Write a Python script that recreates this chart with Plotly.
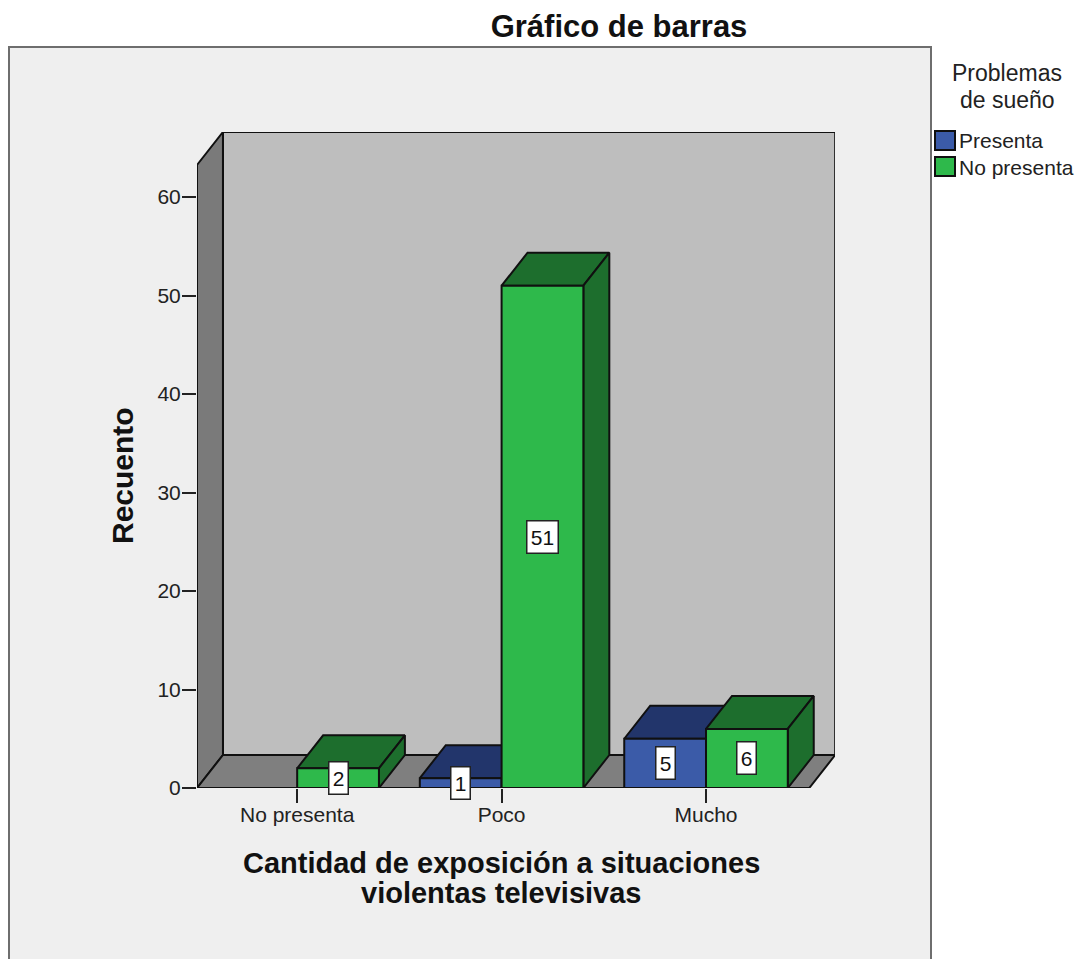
import plotly.graph_objects as go

# values
categories = ["No presenta", "Poco", "Mucho"]
presenta = [0, 1, 5]
no_presenta = [2, 51, 6]
y_ticks = [0, 10, 20, 30, 40, 50, 60]

W, H = 1084, 959
FONT = "Liberation Sans"

# pseudo 3d depth and box size, in axis units
DX, DY = 0.127, 3.35
BAR_W = 0.4
X_LEFT, X_RIGHT = -0.49, 2.505
WALL_TOP = 63.25

BLUE, BLUE_DARK = "#3b5ba8", "#22356b"
GREEN, GREEN_DARK = "#2eb94b", "#1d6e2d"
EDGE = "#101010"


def px(x):
    return x / W


def py(y):
    return 1 - y / H


def face(xs, ys, color):
    return go.Scatter(x=xs, y=ys, mode="lines", fill="toself", fillcolor=color,
                      line=dict(color=EDGE, width=2), cliponaxis=False,
                      showlegend=False, hoverinfo="skip")


def add_bar(fig, x0, value, color, dark):
    x1 = x0 + BAR_W
    # top, right side, front
    fig.add_trace(face([x0, x0 + DX, x1 + DX, x1, x0], [value, value + DY, value + DY, value, value], dark))
    fig.add_trace(face([x1, x1 + DX, x1 + DX, x1, x1], [0, DY, value + DY, value, 0], dark))
    fig.add_trace(face([x0, x1, x1, x0, x0], [0, 0, value, value, 0], color))


def note(x, y, text, size, color="#222222", xanchor="center", angle=0):
    return dict(x=px(x), y=py(y), xref="paper", yref="paper", showarrow=False, textangle=angle,
                xanchor=xanchor, yanchor="middle", text=text,
                font=dict(family=FONT, size=size, color=color))


fig = go.Figure()

# walls and floor
fig.add_trace(face([X_LEFT + DX, X_RIGHT + DX, X_RIGHT + DX, X_LEFT + DX, X_LEFT + DX],
                   [DY, DY, WALL_TOP + DY, WALL_TOP + DY, DY], "#bebebe"))
fig.add_trace(face([X_LEFT, X_LEFT + DX, X_LEFT + DX, X_LEFT, X_LEFT],
                   [0, DY, WALL_TOP + DY, WALL_TOP, 0], "#7a7a7a"))
fig.add_trace(face([X_LEFT, X_RIGHT, X_RIGHT + DX, X_LEFT + DX, X_LEFT],
                   [0, 0, DY, DY, 0], "#7f7f7f"))

annotations = []
for i in range(len(categories)):
    for x0, value, color, dark in [(i - BAR_W, presenta[i], BLUE, BLUE_DARK),
                                   (i, no_presenta[i], GREEN, GREEN_DARK)]:
        if value == 0:
            continue
        add_bar(fig, x0, value, color, dark)
        annotations.append(dict(x=x0 + BAR_W / 2, y=value / 2, text=str(value), showarrow=False,
                                font=dict(family=FONT, size=21, color="#111111"),
                                bgcolor="white", bordercolor="#222222", borderwidth=1.5,
                                width=30 if value > 9 else 18, height=31, borderpad=0))

# legend title, legend entries and axis titles
annotations += [
    note(1007, 73, "Problemas", 23),
    note(1007, 100, "de sueño", 23),
    note(957, 141, "Presenta", 21, xanchor="left"),
    note(957, 167, "No presenta", 21, xanchor="left"),
    note(122, 476, "<b>Recuento</b>", 30, color="#111111", angle=-90),
    note(501, 863, "<b>Cantidad de exposición a situaciones</b>", 29, color="#111111"),
    note(501, 893, "<b>violentas televisivas</b>", 29, color="#111111"),
]

shapes = [
    dict(type="rect", layer="below", xref="paper", yref="paper", x0=px(9), x1=px(931), y0=py(975), y1=py(47),
         fillcolor="#efefef", line=dict(color="#6e6e6e", width=2)),
    dict(type="rect", xref="paper", yref="paper", x0=px(935), x1=px(955), y0=py(150), y1=py(131),
         fillcolor=BLUE, line=dict(color=EDGE, width=2)),
    dict(type="rect", xref="paper", yref="paper", x0=px(935), x1=px(955), y0=py(176), y1=py(157),
         fillcolor=GREEN, line=dict(color=EDGE, width=2)),
]

fig.update_layout(
    width=W, height=H,
    margin=dict(l=0, r=0, t=0, b=0),
    paper_bgcolor="white",
    plot_bgcolor="rgba(0,0,0,0)",
    showlegend=False,
    title=dict(text="<b>Gráfico de barras</b>", x=px(619), xanchor="center", xref="paper",
               y=py(26), yanchor="middle", yref="container",
               font=dict(family=FONT, size=31, color="#111111")),
    annotations=annotations,
    shapes=shapes,
)

fig.update_xaxes(
    automargin=False,
    domain=[px(197), px(835)], range=[X_LEFT, 2.631],
    tickvals=list(range(len(categories))), ticktext=categories,
    ticks="outside", ticklen=14, tickwidth=2, tickcolor="#222222", ticklabelstandoff=-6,
    tickfont=dict(family=FONT, size=21, color="#222222"),
    showgrid=False, zeroline=False, showline=False,
)
fig.update_yaxes(
    automargin=False,
    domain=[py(788), py(132)], range=[0, 66.6],
    tickvals=y_ticks,
    ticks="outside", ticklen=14, tickwidth=2, tickcolor="#222222", ticklabelstandoff=-3,
    tickfont=dict(family=FONT, size=21, color="#222222"),
    showgrid=False, zeroline=False, showline=False,
)

fig.write_html("out.html", config=dict(displayModeBar=False),
               post_script="document.body.style.margin='0';")
